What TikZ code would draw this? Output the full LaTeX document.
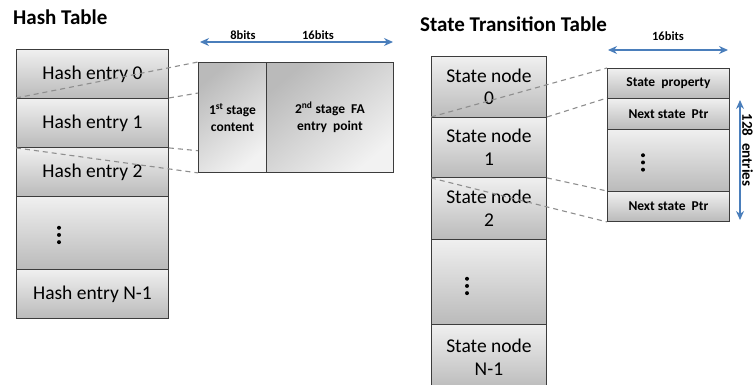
\documentclass[tikz,border=0pt]{standalone}
\usepackage{fontspec}
\setmainfont{Carlito}
\usetikzlibrary{arrows.meta,calc}
\definecolor{edge}{HTML}{3C3C3C}
\definecolor{link}{HTML}{8E8E8E}
\definecolor{dim}{HTML}{4A7EBB}
\tikzset{
  cell/.style={draw=edge, line width=0.9pt, top color=black!6, bottom color=black!27,
    anchor=north west, inner sep=0pt, align=center,
    font=\fontsize{19.5}{22.5}\selectfont},
  field/.style={cell, font=\bfseries\fontsize{13.5}{17}\selectfont},
  panel/.style={field, top color=black!27, bottom color=black!5, shading angle=40},
  guide/.style={draw=link, dash pattern=on 5pt off 4pt, line width=1.1pt},
  dimarrow/.style={draw=dim, line width=1.3pt,
    {Stealth[length=9pt,width=8pt]}-{Stealth[length=9pt,width=8pt]}},
  heading/.style={font=\bfseries\fontsize{21}{24}\selectfont, anchor=base west, inner sep=0pt},
  bitlabel/.style={font=\bfseries\fontsize{12.5}{14}\selectfont, anchor=base, inner sep=0pt},
  vdots/.pic={\fill[black] (0,-7.2) circle[radius=2pt] (0,0) circle[radius=2pt] (0,7.2) circle[radius=2pt];}
}
\begin{document}
\begin{tikzpicture}[x=1pt,y=-1pt]
\clip (0,0) rectangle (755,385);

% ---------- hash table ----------
\node[heading] (htitle) at (13,25) {Hash Table};
\node[cell, minimum width=152pt, minimum height=49pt] (h0) at (16,49)  {Hash entry 0};
\node[cell, minimum width=152pt, minimum height=49pt] (h1) at (16,98)  {Hash entry 1};
\node[cell, minimum width=152pt, minimum height=49pt] (h2) at (16,147) {Hash entry 2};
\node[cell, minimum width=152pt, minimum height=73pt] (h3) at (16,196) {};
\node[cell, minimum width=152pt, minimum height=49pt] (h4) at (16,269) {Hash entry N-1};
\pic at ($(h3.west)+(43,2)$) {vdots};

% hash entry layout
\node[panel, minimum width=68pt, minimum height=110pt] (fa) at (198,62)
  {1\textsuperscript{st} stage\\content};
\node[panel, minimum width=127pt, minimum height=110pt] (fb) at (266,62)
  {2\textsuperscript{nd} stage\ \ FA\\entry\ \ point};

\coordinate (hb0) at (200,42);
\coordinate (hb1) at (393,42);
\draw[dimarrow] (hb0) -- (hb1);
\node[bitlabel] (b8) at (243,40) {8bits};
\node[bitlabel] (b16) at (318,40) {16bits};

\draw[guide] (h1.north west) -- (fa.north west);
\draw[guide] (h1.north east) -- ($(fa.north west)!0.28!(fa.south west)$);
\draw[guide] (h1.south east) -- ($(fa.north west)!0.8!(fa.south west)$);
\draw[guide] (h1.south west) -- (fa.south west);

% ---------- state transition table ----------
\node[heading] (stitle) at (420,32) {State Transition Table};
\node[cell, minimum width=115pt, minimum height=61pt] (s0) at (431,56)  {State node\\0};
\node[cell, minimum width=115pt, minimum height=60pt] (s1) at (431,117) {State node\\1};
\node[cell, minimum width=115pt, minimum height=62pt] (s2) at (431,177) {State node\\2};
\node[cell, minimum width=115pt, minimum height=85pt] (s3) at (431,239) {};
\node[cell, minimum width=115pt, minimum height=66pt] (s4) at (431,324) {State node\\N-1};
\pic at ($(s3.west)+(36,4)$) {vdots};

% state node layout
\node[field, minimum width=122pt, minimum height=30pt] (p0) at (607,68)  {State\ \ property};
\node[field, minimum width=122pt, minimum height=31pt] (p1) at (607,98)  {Next state\ \ Ptr};
\node[field, minimum width=122pt, minimum height=62pt] (p2) at (607,129) {};
\node[field, minimum width=122pt, minimum height=30pt] (p3) at (607,191) {Next state\ \ Ptr};
\pic at ($(p2.west)+(36,2)$) {vdots};

\coordinate (sb0) at (608,50);
\coordinate (sb1) at (728,50);
\draw[dimarrow] (sb0) -- (sb1);
\node[bitlabel] (s16) at (668,41) {16bits};

\coordinate (ev0) at (740,100);
\coordinate (ev1) at (740,220);
\draw[dimarrow] (ev0) -- (ev1);
\node[bitlabel, font=\bfseries\fontsize{15}{17}\selectfont, anchor=center, rotate=-90]
  (nent) at (747.5,150) {128\ \ entries};

\draw[guide] (s1.north west) -- (p0.north west);
\draw[guide] (s1.north east) -- (p1.north west);
\draw[guide] (s1.south east) -- (p3.north west);
\draw[guide] (s1.south west) -- (p3.south west);
\end{tikzpicture}
\end{document}
